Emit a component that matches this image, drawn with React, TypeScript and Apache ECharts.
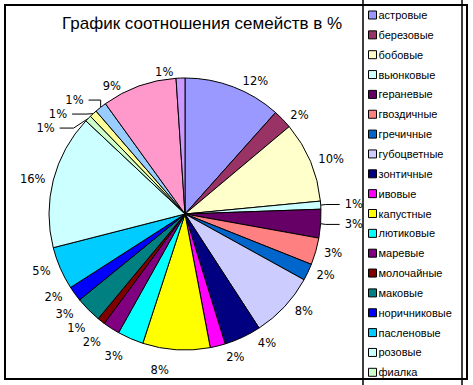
import React, { useEffect, useRef } from "react";
import * as echarts from "echarts";

const titleText = "График соотношения семейств в %";

const categories = [
  "астровые",
  "березовые",
  "бобовые",
  "вьюнковые",
  "гераневые",
  "гвоздичные",
  "гречичные",
  "губоцветные",
  "зонтичные",
  "ивовые",
  "капустные",
  "лютиковые",
  "маревые",
  "молочайные",
  "маковые",
  "норичниковые",
  "пасленовые",
  "розовые",
  "фиалка",
  "прочие 1",
  "прочие 2",
  "прочие 3",
  "прочие 4",
];

const legendCount = 19;

const values = [
  11.6, 2.3, 9.6, 0.95, 3.4, 3.2, 2.0, 7.8, 4.4, 1.8, 8.0, 3.1, 2.0, 0.9, 3.1,
  1.8, 5.1, 16.0, 0.75, 0.9, 1.4, 8.9, 1.05,
];

const colors = [
  "#9999FF", "#993366", "#FFFFCC", "#CCFFFF", "#660066", "#FF8080", "#0066CC",
  "#CCCCFF", "#000080", "#FF00FF", "#FFFF00", "#00FFFF", "#800080", "#800000",
  "#008080", "#0000FF", "#00CCFF", "#CCFFFF", "#CCFFCC", "#FFFF99", "#99CCFF",
  "#FF99CC", "#CC99FF",
];

const leaderIdx = [3, 4, 18, 19, 20];

export default function App() {
  const ref = useRef<HTMLDivElement>(null);
  useEffect(() => {
    if (!ref.current) return;
    const chart = echarts.init(ref.current, null, { renderer: "svg" });
    const data = categories.map((name, i) => {
      const item: any = {
        name,
        value: values[i],
        itemStyle: { color: colors[i] },
      };
      if (leaderIdx.includes(i)) {
        item.labelLine = {
          show: true,
          length: 10,
          length2: 14,
          lineStyle: { color: "#000", width: 1 },
        };
      }
      return item;
    });
    chart.setOption({
      animation: false,
      backgroundColor: "#fff",
      color: colors,
      title: {
        text: titleText,
        left: 62,
        top: 15,
        padding: 0,
        textStyle: {
          fontFamily: "Liberation Sans",
          fontSize: 17,
          fontWeight: "normal",
          color: "#000",
        },
      },
      graphic: [
        {
          type: "rect",
          shape: { x: 5, y: 5, width: 462, height: 374 },
          style: { fill: "none", stroke: "#000", lineWidth: 2 },
          z: 0,
        },
        {
          type: "rect",
          shape: { x: 363, y: -5, width: 99, height: 400 },
          style: { fill: "none", stroke: "#000", lineWidth: 1.5 },
          z: 0,
        },
      ],
      legend: {
        orient: "vertical",
        left: 368,
        top: 9,
        padding: 0,
        data: categories.slice(0, legendCount),
        icon: "rect",
        itemWidth: 8,
        itemHeight: 8,
        itemGap: 7.85,
        itemStyle: { borderColor: "#000", borderWidth: 1 },
        textStyle: {
          fontFamily: "Liberation Sans",
          fontSize: 11,
          color: "#000",
          lineHeight: 12,
          padding: [0, 0, 0, -3],
        },
        selectedMode: false,
      },
      series: [
        {
          type: "pie",
          center: [185, 214],
          radius: [0, 136],
          startAngle: 90,
          clockwise: true,
          data,
          itemStyle: { borderColor: "#000", borderWidth: 1 },
          emphasis: { disabled: true },
          label: {
            show: true,
            position: "outside",
            formatter: (p: any) => Math.round(p.percent) + "%",
            fontFamily: "DejaVu Sans",
            fontSize: 11.5,
            color: "#000",
          },
          labelLine: { show: false, length: 6, length2: 2 },
          avoidLabelOverlap: true,
        },
      ],
    });
    return () => chart.dispose();
  }, []);
  return (
    <div
      ref={ref}
      style={{ position: "fixed", left: 0, top: 0, width: 473, height: 385 }}
    />
  );
}
